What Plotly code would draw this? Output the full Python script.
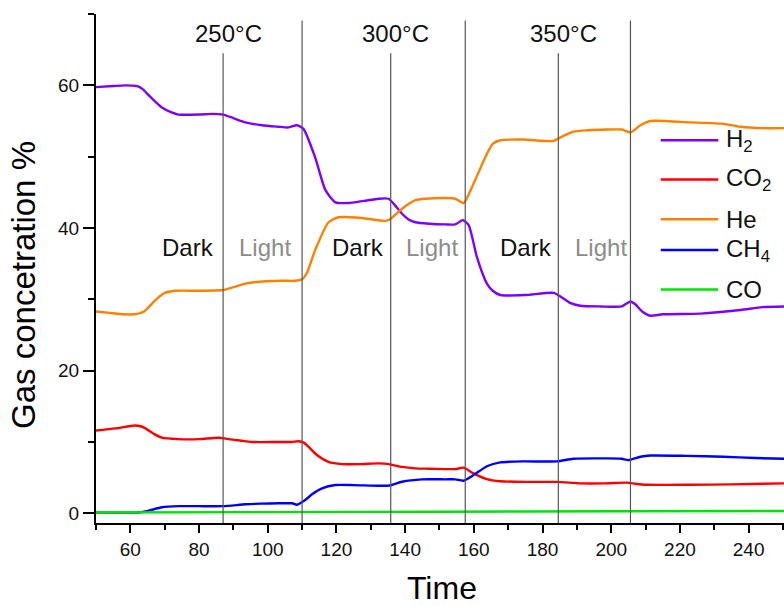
import plotly.graph_objects as go

# ---------------- data ----------------
h2_t = [50, 55, 58.5, 62, 63.5, 66, 69.2, 72, 74, 80, 84, 87, 90, 93.5, 98.3, 103, 106, 108.5,
        110.4, 113.8, 116.8, 119.7, 123.5, 128, 132.3, 135.2, 137, 139.1, 141, 143, 147, 151.7,
        154.6, 156.8, 158.5, 160.9, 163.8, 165.5, 167.7, 175, 183.2, 185.2, 188, 191, 197, 203,
        205.6, 207, 209, 211.4, 215, 226, 237.6, 244, 250.5]
h2_v = [59.75, 59.9, 60.0, 59.9, 59.5, 58.3, 56.9, 56.2, 55.9, 55.9, 56.0, 55.9, 55.4, 54.8, 54.4,
        54.2, 54.1, 54.4, 53.9, 49.9, 45.3, 43.6, 43.5, 43.8, 44.1, 44.1, 43.2, 42.0, 41.2, 40.8,
        40.6, 40.5, 40.5, 41.1, 40.4, 35.9, 32.2, 31.2, 30.6, 30.6, 30.9, 30.4, 29.5, 29.1, 29.0,
        29.0, 29.7, 29.3, 28.3, 27.7, 27.9, 28.0, 28.5, 28.9, 29.0]

co2_t = [50, 55.6, 61.4, 63, 64.4, 67, 69.2, 74, 80, 85.7, 88.6, 92, 95.4, 103.2, 107, 109, 110.5,
         111.9, 114.5, 117.7, 121.6, 127, 132.3, 135.2, 139.1, 143, 146.8, 151.7, 154.6, 157,
         159.9, 163.8, 167.7, 175, 184.2, 191, 198, 204.6, 207, 210.4, 223, 235, 250.5]
co2_v = [11.6, 11.9, 12.3, 12.2, 11.9, 11.1, 10.6, 10.4, 10.4, 10.6, 10.4, 10.2, 10.0, 10.0, 10.0,
         10.1, 9.9, 9.3, 8.1, 7.2, 6.9, 6.9, 7.0, 6.9, 6.5, 6.3, 6.25, 6.2, 6.2, 6.4, 5.6, 4.8,
         4.5, 4.4, 4.4, 4.2, 4.2, 4.3, 4.15, 4.0, 4.0, 4.05, 4.2]

he_t = [50, 54, 58, 62, 64, 67.3, 70, 73.1, 80, 87, 90, 93.5, 98.3, 104, 108, 110, 111.5, 113.8,
        117.7, 120.6, 127.4, 134.2, 135.5, 137, 139.1, 143, 146, 151.7, 154.6, 157, 159.9, 163.8,
        165.5, 167.7, 174.5, 183.2, 185.2, 189, 193, 198.8, 203.1, 205.6, 208.5, 211.4, 223,
        232.7, 237.6, 244, 250.5]
he_v = [28.3, 28.1, 27.9, 27.95, 28.3, 29.9, 30.9, 31.2, 31.2, 31.3, 31.7, 32.2, 32.5, 32.6, 32.6,
        32.8, 33.8, 36.9, 40.8, 41.5, 41.4, 41.0, 41.2, 41.8, 42.7, 43.9, 44.1, 44.2, 44.1, 43.5,
        46.2, 50.4, 51.8, 52.3, 52.4, 52.2, 52.7, 53.5, 53.7, 53.8, 53.8, 53.4, 54.4, 55.0, 54.8,
        54.6, 54.2, 54.0, 54.0]

ch4_t = [50, 55, 60, 62.6, 65.3, 69.2, 74, 80, 87, 93.5, 98, 103.2, 107.1, 108.5, 110.9, 113,
         115.8, 119.7, 125, 132.3, 135.4, 139.1, 144.9, 151.7, 154.6, 157, 159.9, 163.8, 167.7,
         174.5, 184.2, 189, 198.8, 203, 205, 208.5, 211.4, 222, 232.7, 242, 250.5]
ch4_v = [0.1, 0.1, 0.1, 0.12, 0.37, 0.84, 1.0, 1.0, 1.0, 1.26, 1.35, 1.4, 1.4, 1.2, 1.86, 2.7, 3.5,
         3.96, 3.95, 3.87, 3.9, 4.43, 4.76, 4.76, 4.76, 4.57, 5.36, 6.6, 7.14, 7.28, 7.28, 7.65,
         7.7, 7.65, 7.46, 7.93, 8.1, 8.05, 7.93, 7.75, 7.65]

co_t = [50, 100, 150, 200, 250.5]
co_v = [0.12, 0.17, 0.22, 0.28, 0.32]

series_names = ["H<sub>2</sub>", "CO<sub>2</sub>", "He", "CH<sub>4</sub>", "CO"]
series_colors = ["#8000FF", "#FF0000", "#FF8000", "#0000FF", "#00E600"]

# switching times (temperature change = tall lines, dark->light = short lines)
temp_switch_t = [110, 157.5, 205.6]
light_switch_t = [87, 135.8, 184.6]
temp_labels = ["250°C", "300°C", "350°C"]
temp_label_t = [88.5, 137.1, 186.0]
phase_labels = ["Dark", "Light", "Dark", "Light", "Dark", "Light"]
phase_label_t = [76.9, 99.1, 126.4, 147.9, 175.3, 196.9]

x_title = "Time"
y_title = "Gas concetration %"

# ---------------- figure ----------------
FONT = "Liberation Sans, Arial, sans-serif"
fig = go.Figure()
all_t = [h2_t, co2_t, he_t, ch4_t, co_t]
all_v = [h2_v, co2_v, he_v, ch4_v, co_v]
for t, v, n, c in zip(all_t, all_v, series_names, series_colors):
    fig.add_trace(go.Scatter(x=t, y=v, name=n, mode="lines",
                             line=dict(color=c, width=2.4, shape="spline", smoothing=0.6),
                             showlegend=False))

Y0, Y1 = -1.36, 70
shapes = []
for t in temp_switch_t:
    shapes.append(dict(type="line", xref="x", yref="y", x0=t, x1=t, y0=Y0, y1=69.1,
                       line=dict(color="#555555", width=1.2)))
for t in light_switch_t:
    shapes.append(dict(type="line", xref="x", yref="y", x0=t, x1=t, y0=Y0, y1=64.5,
                       line=dict(color="#555555", width=1.2)))

annotations = []
for lab, t in zip(temp_labels, temp_label_t):
    annotations.append(dict(x=t, y=67.3, xref="x", yref="y", text=lab, showarrow=False,
                            font=dict(family=FONT, size=24, color="#111111"),
                            xanchor="center", yanchor="middle"))
for lab, t in zip(phase_labels, phase_label_t):
    annotations.append(dict(x=t, y=37.2, xref="x", yref="y", text=lab, showarrow=False,
                            font=dict(family=FONT, size=24,
                                      color="#111111" if lab == "Dark" else "#8c8c8c"),
                            xanchor="center", yanchor="middle"))

# manual legend (paper coords)
L, T, W, H = 96, 14, 688, 509
def px2x(px):
    return (px - L) / W
def py2y(py):
    return (T + H - py) / H
legend_rows = [140.3, 179.5, 219.3, 250.0, 289.5]
for n, c, py in zip(series_names, series_colors, legend_rows):
    shapes.append(dict(type="line", xref="paper", yref="paper", x0=px2x(660.7), x1=px2x(718.3),
                       y0=py2y(py), y1=py2y(py), line=dict(color=c, width=2.4)))
    annotations.append(dict(x=px2x(724), y=py2y(py), xref="paper", yref="paper", text=n,
                            showarrow=False, xanchor="left", yanchor="middle",
                            font=dict(family=FONT, size=24, color="#111111")))

annotations.append(dict(x=px2x(442), y=py2y(588), xref="paper", yref="paper", text=x_title,
                        showarrow=False, xanchor="center", yanchor="middle",
                        font=dict(family=FONT, size=32, color="#000000")))
annotations.append(dict(x=px2x(24), y=py2y(285), xref="paper", yref="paper", text=y_title,
                        showarrow=False, xanchor="center", yanchor="middle", textangle=-90,
                        font=dict(family=FONT, size=33, color="#000000")))

fig.update_layout(
    width=784, height=606,
    margin=dict(l=L, r=784 - L - W, t=T, b=606 - T - H),
    paper_bgcolor="white", plot_bgcolor="white",
    font=dict(family=FONT, size=19, color="#111111"),
    shapes=shapes, annotations=annotations, showlegend=False,
)
fig.update_xaxes(range=[50, 250.3], showline=True, linecolor="black", linewidth=2,
                 showgrid=False, zeroline=False, ticks="outside", ticklen=8, tickwidth=2,
                 tickcolor="black", tick0=0, dtick=20,
                 minor=dict(ticks="outside", ticklen=5, tickwidth=2, tickcolor="black",
                            dtick=10, tick0=0, showgrid=False),
                 tickfont=dict(family=FONT, size=19, color="#111111"))
fig.update_yaxes(range=[Y0, Y1], showline=True, linecolor="black", linewidth=2,
                 showgrid=False, zeroline=False, ticks="outside", ticklen=11, tickwidth=2,
                 tickcolor="black", tick0=0, dtick=20,
                 minor=dict(ticks="outside", ticklen=6, tickwidth=2, tickcolor="black",
                            dtick=10, tick0=0, showgrid=False),
                 tickfont=dict(family=FONT, size=19, color="#111111"))

fig.write_html("out.html")
